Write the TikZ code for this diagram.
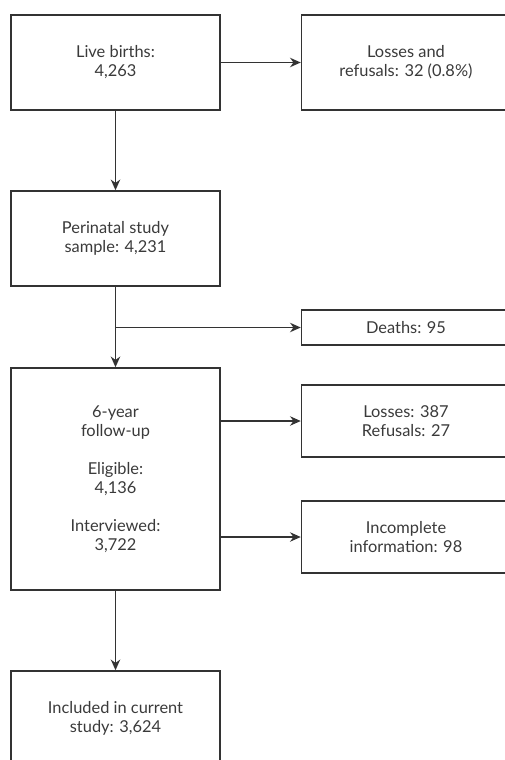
\documentclass[tikz,border=0pt]{standalone}
\usepackage{fontspec}
\setmainfont{Lato}
\usetikzlibrary{arrows.meta}
\definecolor{ln}{HTML}{333333}
\definecolor{tx}{HTML}{3A3A3A}
\tikzset{
  box/.style={draw=ln, line width=1.1pt, minimum width=156.75pt, inner sep=0pt, align=center, text=tx, font=\fontsize{12.3}{14.25}\selectfont},
  conn/.style={draw=ln, line width=1.1pt, -{Stealth[length=8pt,width=7pt,inset=2.5pt]}},
}
\begin{document}
\begin{tikzpicture}[x=0.75pt,y=-0.75pt]
\useasboundingbox (0,0) rectangle (505,760);
\clip (0,0) rectangle (505,760);
\node[box, minimum height=71.25pt] (live) at (115.5,62.5) {Live births:\\4,263};
\node[box, minimum height=71.25pt] (lossref) at (406,62.5) {Losses and\\refusals: 32 (0.8\%)};
\node[box, minimum height=71.25pt] (peri) at (115.5,238.5) {Perinatal study\\sample: 4,231};
\node[box, minimum height=26.25pt] (deaths) at (406,327.5) {Deaths: 95};
\node[box, minimum height=166.5pt] (six) at (115.5,479) {6-year\\follow-up\\[14.25pt]Eligible:\\4,136\\[14.25pt]Interviewed:\\3,722};
\node[box, minimum height=54pt] (losses) at (406,421) {Losses: 387\\Refusals: 27};
\node[box, minimum height=54pt] (incomp) at (406,537) {Incomplete\\information: 98};
\node[box, minimum height=71.25pt] (incl) at (115.5,718.5) {Included in current\\study: 3,624};
\coordinate (br) at (115.5,327.5);
\draw[conn] (live.east) -- (lossref.west);
\draw[conn] (live.south) -- (peri.north);
\draw[conn] (peri.south) -- (six.north);
\draw[conn] (br) -- (deaths.west);
\draw[conn] (six.east |- losses.west) -- (losses.west);
\draw[conn] (six.east |- incomp.west) -- (incomp.west);
\draw[conn] (six.south) -- (incl.north);
\end{tikzpicture}
\end{document}
